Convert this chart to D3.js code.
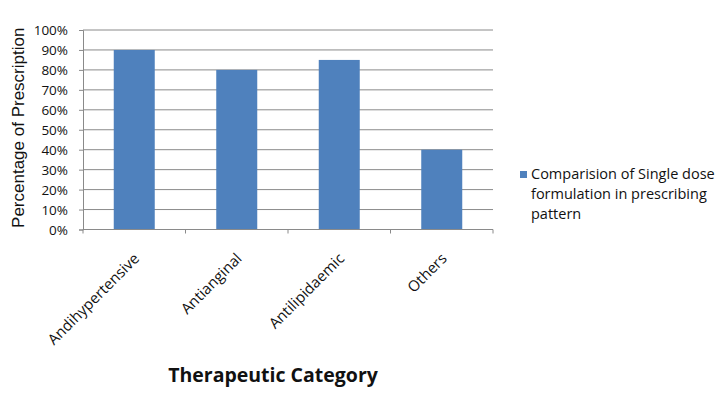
<!DOCTYPE html>
<html>
<head>
<meta charset="utf-8">
<script src="https://cdn.jsdelivr.net/npm/d3@7"></script>
<style>
  body { margin: 0; background: #fff; }
  text { font-family: "Open Sans", sans-serif; fill: #111; }
</style>
</head>
<body>
<svg id="chart" width="715" height="396"></svg>
<script>
const categories = ["Andihypertensive", "Antianginal", "Antilipidaemic", "Others"];
const values = [90, 80, 85, 40];
const yTicks = [0, 10, 20, 30, 40, 50, 60, 70, 80, 90, 100];
const seriesName = ["Comparision of Single dose", "formulation in prescribing", "pattern"];

const svg = d3.select("#chart");
const margin = {top: 30, left: 83};
const plotW = 410, plotH = 199.5;

const g = svg.append("g")
    .attr("transform", `translate(${margin.left},${margin.top})`);

const x = d3.scaleBand().domain(categories).range([0, plotW]).paddingInner(0.6).paddingOuter(0.3);
const xb = d3.scaleBand().domain(categories).range([0, plotW]);
const y = d3.scaleLinear().domain([0, 100]).range([plotH, 0]);

// gridlines
g.selectAll(".grid")
    .data(yTicks.slice(1))
    .enter().append("line")
    .attr("x1", 0).attr("x2", plotW)
    .attr("y1", d => y(d)).attr("y2", d => y(d))
    .attr("stroke", "#8a8a8a").attr("stroke-width", 1);

// bars
g.selectAll(".bar")
    .data(values)
    .enter().append("rect")
    .attr("x", (d, i) => x(categories[i]))
    .attr("y", d => y(d))
    .attr("width", x.bandwidth())
    .attr("height", d => plotH - y(d))
    .attr("fill", "#4f81bd");

// y axis
const yAxis = g.append("g")
    .call(d3.axisLeft(y).tickValues(yTicks).tickSize(4).tickFormat(d => d + "%"));
yAxis.selectAll("path, line").attr("stroke", "#8a8a8a");
yAxis.selectAll("text").attr("x", -15).attr("dy", "0.35em")
    .style("font-size", "13.5px").style("font-family", "Open Sans, sans-serif").attr("fill", "#111");

// x axis
const xAxisG = g.append("g").attr("transform", `translate(0,${plotH})`);
xAxisG.append("line").attr("x1", 0).attr("x2", plotW).attr("stroke", "#8a8a8a");
xAxisG.selectAll(".tick")
    .data(categories.concat([null]))
    .enter().append("line")
    .attr("x1", (d, i) => i * xb.bandwidth())
    .attr("x2", (d, i) => i * xb.bandwidth())
    .attr("y1", 0).attr("y2", 4)
    .attr("stroke", "#8a8a8a");
xAxisG.selectAll(".lbl")
    .data(categories)
    .enter().append("text")
    .attr("transform", d => `translate(${xb(d) + xb.bandwidth() / 2 + 6},${30}) rotate(-45)`)
    .attr("text-anchor", "end")
    .style("font-size", "15px")
    .text(d => d);

// y title
svg.append("text")
    .attr("transform", `translate(24,${margin.top + plotH / 2 - 2}) rotate(-90)`)
    .attr("text-anchor", "middle")
    .style("font-family", "Liberation Sans, Arial, sans-serif")
    .style("font-size", "17px")
    .text("Percentage of Prescription");

// x title
svg.append("text")
    .attr("x", 273).attr("y", 382)
    .attr("text-anchor", "middle")
    .style("font-weight", "bold")
    .style("font-size", "19.5px")
    .text("Therapeutic Category");

// legend
const lg = svg.append("g").attr("transform", "translate(520,171)");
lg.append("rect").attr("width", 7).attr("height", 7).attr("fill", "#4f81bd");
lg.selectAll("text")
    .data(seriesName)
    .enter().append("text")
    .attr("x", 11)
    .attr("y", (d, i) => 8 + i * 20)
    .style("font-size", "14.5px")
    .text(d => d);
</script>
</body>
</html>
